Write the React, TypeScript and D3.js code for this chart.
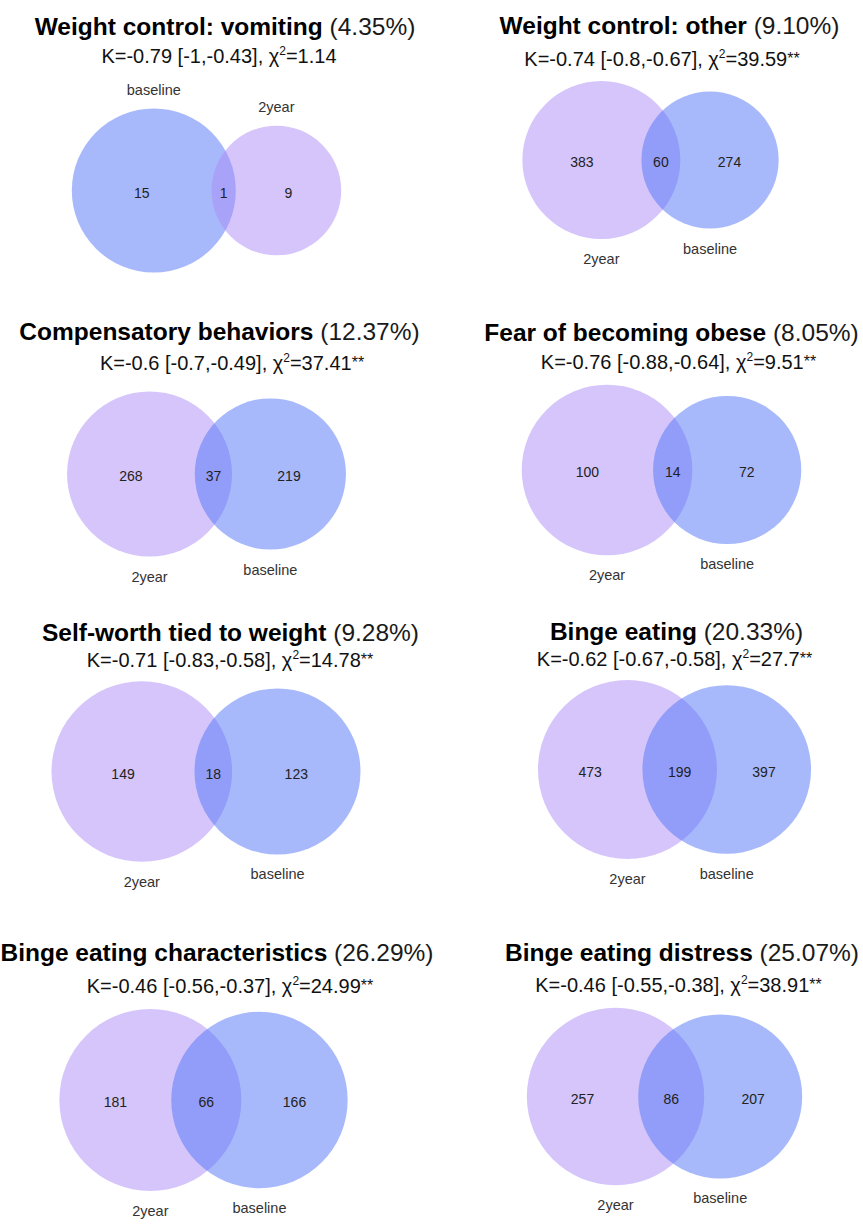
import React from "react";
import * as d3 from "d3";

// ---------- data ----------
const titles = [
  "Weight control: vomiting",
  "Weight control: other",
  "Compensatory behaviors",
  "Fear of becoming obese",
  "Self-worth tied to weight",
  "Binge eating",
  "Binge eating characteristics",
  "Binge eating distress",
];
const percents = ["4.35%", "9.10%", "12.37%", "8.05%", "9.28%", "20.33%", "26.29%", "25.07%"];
const kappa = ["-0.79", "-0.74", "-0.6", "-0.76", "-0.71", "-0.62", "-0.46", "-0.46"];
const kappaCI = [
  "[-1,-0.43]",
  "[-0.8,-0.67]",
  "[-0.7,-0.49]",
  "[-0.88,-0.64]",
  "[-0.83,-0.58]",
  "[-0.67,-0.58]",
  "[-0.56,-0.37]",
  "[-0.55,-0.38]",
];
const chi2 = ["1.14", "39.59", "37.41", "9.51", "14.78", "27.7", "24.99", "38.91"];
const significance = ["", "**", "**", "**", "**", "**", "**", "**"];
const leftSet = ["baseline", "2year", "2year", "2year", "2year", "2year", "2year", "2year"];
const rightSet = ["2year", "baseline", "baseline", "baseline", "baseline", "baseline", "baseline", "baseline"];
const leftOnly = [15, 383, 268, 100, 149, 473, 181, 257];
const overlapCount = [1, 60, 37, 14, 18, 199, 66, 86];
const rightOnly = [9, 274, 219, 72, 123, 397, 166, 207];

// ---------- layout (positions / sizes / styles) ----------
const W = 863;
const H = 1224;
const layout = [
  { cx: 206.5, cy: 190.5, rMax: 82, titleX: 225, titleY: 35, subX: 219, subY: 63, labelSide: "top" },
  { cx: 650.5, cy: 160, rMax: 79, titleX: 669.5, titleY: 34, subX: 662, subY: 66, labelSide: "bottom" },
  { cx: 206.5, cy: 474, rMax: 82.5, titleX: 219.5, titleY: 340, subX: 232, subY: 370, labelSide: "bottom" },
  { cx: 661.5, cy: 470, rMax: 85.3, titleX: 671.5, titleY: 341, subX: 678.5, subY: 369, labelSide: "bottom" },
  { cx: 206, cy: 771.5, rMax: 90.3, titleX: 230.5, titleY: 641, subX: 230, subY: 667, labelSide: "bottom" },
  { cx: 674.5, cy: 769.5, rMax: 89.5, titleX: 676.5, titleY: 640, subX: 674.5, subY: 666, labelSide: "bottom" },
  { cx: 203.5, cy: 1100, rMax: 91, titleX: 217, titleY: 961, subX: 230, subY: 993, labelSide: "bottom" },
  { cx: 664.5, cy: 1096.5, rMax: 88.7, titleX: 682, titleY: 961, subX: 678.5, subY: 992, labelSide: "bottom" },
];
const setColor: Record<string, string> = { baseline: "#4f73f7", "2year": "#ab8bf7" };
const FONT = "'Liberation Sans', Arial, Helvetica, sans-serif";

// lens area of two circles radii r1, r2 at distance d
function lensArea(r1: number, r2: number, d: number) {
  if (d >= r1 + r2) return 0;
  if (d <= Math.abs(r1 - r2)) return Math.PI * Math.min(r1, r2) ** 2;
  const a1 = (d * d + r1 * r1 - r2 * r2) / (2 * d);
  const a2 = d - a1;
  const s1 = r1 * r1 * Math.acos(a1 / r1) - a1 * Math.sqrt(Math.max(0, r1 * r1 - a1 * a1));
  const s2 = r2 * r2 * Math.acos(a2 / r2) - a2 * Math.sqrt(Math.max(0, r2 * r2 - a2 * a2));
  return s1 + s2;
}
function solveDistance(r1: number, r2: number, target: number) {
  let lo = Math.abs(r1 - r2);
  let hi = r1 + r2;
  for (let i = 0; i < 80; i++) {
    const mid = (lo + hi) / 2;
    if (lensArea(r1, r2, mid) > target) lo = mid;
    else hi = mid;
  }
  return (lo + hi) / 2;
}

function Panel({ i }: { i: number }) {
  const L = layout[i];
  const leftTotal = leftOnly[i] + overlapCount[i];
  const rightTotal = rightOnly[i] + overlapCount[i];
  const r = d3
    .scaleSqrt()
    .domain([0, Math.max(leftTotal, rightTotal)])
    .range([0, L.rMax]);
  const r1 = r(leftTotal);
  const r2 = r(rightTotal);
  const target = Math.PI * r(overlapCount[i]) ** 2;
  const d = solveDistance(r1, r2, target);
  const width = r1 + d + r2;
  const x1 = L.cx - width / 2 + r1;
  const x2 = x1 + d;
  const cy = L.cy;

  const numX = [
    ((x1 - r1) + (x2 - r2)) / 2,
    ((x2 - r2) + (x1 + r1)) / 2,
    ((x1 + r1) + (x2 + r2)) / 2,
  ];
  const nums = [leftOnly[i], overlapCount[i], rightOnly[i]];

  const labY = (rad: number) => (L.labelSide === "top" ? cy - rad - 13.5 : cy + rad + 25);

  return (
    <g>
      <text x={L.titleX} y={L.titleY} textAnchor="middle" fontSize={24.5} fill="#000" fontFamily={FONT}>
        <tspan fontWeight="bold">{titles[i]}</tspan>
        <tspan fill="#1a1a1a">{` (${percents[i]})`}</tspan>
      </text>
      <text x={L.subX} y={L.subY} textAnchor="middle" fontSize={20} fill="#111" fontFamily={FONT}>
        <tspan>{`K=${kappa[i]} ${kappaCI[i]}, χ`}</tspan>
        <tspan fontSize={12} dy={-8}>2</tspan>
        <tspan dy={8}>{`=${chi2[i]}`}</tspan>
        {significance[i] ? <tspan fontSize={16} dy={-2}>{significance[i]}</tspan> : null}
      </text>
      <circle cx={x1} cy={cy} r={r1} fill={setColor[leftSet[i]]} fillOpacity={0.5} />
      <circle cx={x2} cy={cy} r={r2} fill={setColor[rightSet[i]]} fillOpacity={0.5} />
      {nums.map((n, k) => (
        <text key={k} x={numX[k]} y={cy + 7} textAnchor="middle" fontSize={14} fill="#222" fontFamily={FONT}>
          {n}
        </text>
      ))}
      <text x={x1} y={labY(r1)} textAnchor="middle" fontSize={14.5} fill="#333" fontFamily={FONT}>
        {leftSet[i]}
      </text>
      <text x={x2} y={labY(r2)} textAnchor="middle" fontSize={14.5} fill="#333" fontFamily={FONT}>
        {rightSet[i]}
      </text>
    </g>
  );
}

export default function App() {
  return (
    <svg
      width={W}
      height={H}
      viewBox={`0 0 ${W} ${H}`}
      style={{ position: "absolute", left: 0, top: 0, background: "#fff" }}
    >
      <rect width={W} height={H} fill="#fff" />
      {titles.map((_, i) => (
        <Panel key={i} i={i} />
      ))}
    </svg>
  );
}
